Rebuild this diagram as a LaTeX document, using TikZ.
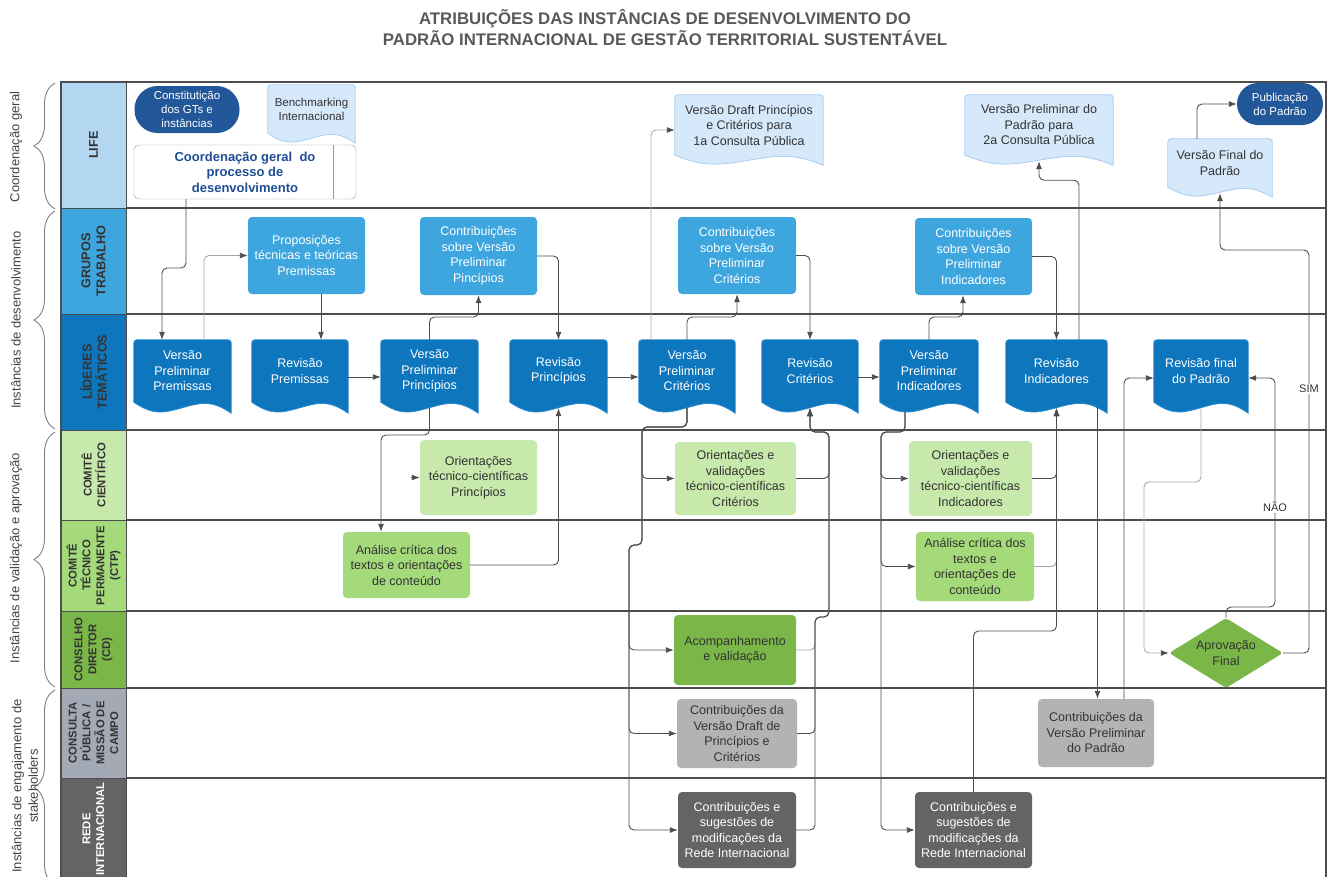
\documentclass[tikz,border=0pt]{standalone}
\usepackage{fontspec}
\setmainfont{Liberation Sans}
\usepackage{tikz}
\usetikzlibrary{arrows.meta,calc,shapes.geometric,decorations.pathreplacing,backgrounds}

\definecolor{lineC}{HTML}{4D4D4D}
\definecolor{faintC}{HTML}{A6A6A6}
\definecolor{txtC}{HTML}{333333}
\definecolor{titleC}{HTML}{595959}
\definecolor{grpC}{HTML}{444444}
\definecolor{braceC}{HTML}{808080}
\definecolor{lifeC}{HTML}{B4D7F1}
\definecolor{gtC}{HTML}{3EA6DE}
\definecolor{ltC}{HTML}{0E76BC}
\definecolor{ltB}{HTML}{2A8BD0}
\definecolor{ccC}{HTML}{C7E9AB}
\definecolor{ctpC}{HTML}{A4DA7A}
\definecolor{cdC}{HTML}{7AB648}
\definecolor{cpC}{HTML}{A3A9B5}
\definecolor{cpboxC}{HTML}{B3B3B3}
\definecolor{riC}{HTML}{646464}
\definecolor{navyC}{HTML}{22579A}
\definecolor{docC}{HTML}{D6E9FB}
\definecolor{docB}{HTML}{A8CDF0}
\definecolor{cgT}{HTML}{1F4E96}
\definecolor{cgB}{HTML}{9A9A9A}

% outline of a document shape (wavy bottom) round node #1, dip #2
\newcommand\docpath[2]{(#1.south west) [rounded corners=3pt] -- (#1.north west) -- (#1.north east) -- (#1.south east) [sharp corners] -- ($(#1.south east)+(0,#2)$)
  .. controls ($(#1.south west)!.8!(#1.south east)+(0,-.2*#2)$) and ($(#1.south west)!.7!(#1.south east)$) .. ($(#1.south west)!.5!(#1.south east)+(0,.5*#2)$)
  .. controls ($(#1.south west)!.3!(#1.south east)+(0,#2)$) and ($(#1.south west)!.2!(#1.south east)+(0,1.2*#2)$) .. (#1.south west) -- cycle}

\begin{document}
\begin{tikzpicture}[x=1pt,y=-1pt,
	txt/.style={font=\fontsize{12.5}{15.5}\selectfont,align=center,inner sep=0pt},
	box/.style={txt,rectangle,rounded corners=4pt,text=txtC},
	gtbox/.style={box,fill=gtC,text=white},
	ccbox/.style={box,fill=ccC},
	ctpbox/.style={box,fill=ctpC},
	cdbox/.style={box,fill=cdC},
	cpbox/.style={box,fill=cpboxC},
	ribox/.style={box,fill=riC,text=white},
	navy/.style={txt,font=\fontsize{11.5}{14}\selectfont,rectangle,rounded corners=21pt,fill=navyC,text=white},
	doc/.style={txt,rectangle,text=white,minimum height=62pt},
	docl/.style={txt,rectangle,text=txtC},
	lane/.style={rotate=90,draw=lineC,line width=1pt,inner sep=0pt,align=center,text=txtC,
		font=\bfseries\fontsize{11.3}{13.8}\selectfont,minimum height=65pt},
	biglane/.style={lane,font=\bfseries\fontsize{12.7}{15}\selectfont},
	grp/.style={rotate=90,align=center,inner sep=0pt,text=grpC,font=\fontsize{13}{16.5}\selectfont},
	brace/.style={decorate,decoration={brace,amplitude=21pt},draw=braceC,line width=0.9pt},
	flow/.style={-{Latex[length=8pt,width=6pt,color=lineC]},draw=lineC,line width=0.9pt,rounded corners=5pt},
	faint/.style={draw=faintC},
	lbl/.style={fill=white,inner sep=1pt,text=txtC,font=\fontsize{11}{13}\selectfont}
]
\useasboundingbox (0,0) rectangle (1329,876);
\clip (0,0) rectangle (1329,876);

\node[txt,text=titleC,font=\bfseries\fontsize{16.8}{21}\selectfont] (TT) at (665,27.5)
	{ATRIBUIÇÕES DAS INSTÂNCIAS DE DESENVOLVIMENTO DO\\PADRÃO INTERNACIONAL DE GESTÃO TERRITORIAL SUSTENTÁVEL};

% braces and groups
\draw[brace] (55,209) -- (55,83);
\draw[brace] (55,429) -- (55,211);
\draw[brace] (55,687) -- (55,432);
\draw[brace] (55,885) -- (55,690);
\node[grp] (G1) at (16,147) {Coordenação geral};
\node[grp] (G2) at (16,320) {Instâncias de desenvolvimento};
\node[grp] (G3) at (16,558) {Instâncias de validação e aprovação};
\node[grp] (G4) at (25,786) {Instâncias de engajamento de\\stakeholders};

% lanes
\node[biglane,fill=lifeC,minimum width=126pt] (HLIFE) at (93.5,145) {LIFE};
\node[biglane,fill=gtC,minimum width=106pt] (HGT) at (93.5,261) {GRUPOS\\TRABALHO};
\node[biglane,fill=ltC,minimum width=116pt] (HLT) at (93.5,372) {LÍDERES\\TEMÁTICOS};
\node[lane,fill=ccC,minimum width=90pt] (HCC) at (93.5,475) {COMITÊ\\CIENTÍFICO};
\node[lane,fill=ctpC,minimum width=91pt] (HCTP) at (93.5,565.5) {COMITÊ\\TÉCNICO\\PERMANENTE\\(CTP)};
\node[lane,fill=cdC,minimum width=77pt] (HCD) at (93.5,649.5) {CONSELHO\\DIRETOR\\(CD)};
\node[lane,fill=cpC,minimum width=90pt] (HCP) at (93.5,733) {CONSULTA\\PÚBLICA /\\MISSÃO DE\\CAMPO};
\node[lane,fill=riC,text=white,minimum width=102pt] (HRI) at (93.5,829) {REDE\\INTERNACIONAL};
\foreach \y in {208,314,430,520,611,688,778}
	\draw[lineC,line width=1.2pt] (126,\y) -- (1326,\y);
\draw[lineC,line width=1.4pt] (61,82) rectangle (1326,890);

% LIFE
\node[navy,rounded corners=23pt,minimum width=105pt,minimum height=47pt] (GTS) at (187,109.5) {Constitutição\\dos GTs e\\instâncias};
\node[docl,font=\fontsize{11.5}{14}\selectfont,minimum width=87pt,minimum height=48pt] (BM) at (311.5,109) {Benchmarking\\Internacional};
\node[txt,rectangle,rounded corners=5pt,draw=cgB,fill=white,text=cgT,minimum width=222pt,minimum height=54pt,
	font=\bfseries\fontsize{13}{15.5}\selectfont] (CG) at (245,172) {Coordenação geral\ \ do\\processo de\\desenvolvimento};
\draw[cgB] (CG.north -| 333,0) -- (CG.south -| 333,0);
\node[docl,minimum width=148pt,minimum height=60pt] (VD) at (749,125) {Versão Draft Princípios\\e Critérios para\\1a Consulta Pública};
\node[docl,minimum width=148pt,minimum height=60pt] (VPD) at (1039,125) {Versão Preliminar do\\Padrão para\\2a Consulta Pública};
\node[docl,minimum width=104pt,minimum height=48pt] (VF) at (1220,163) {Versão Final do\\Padrão};
\node[navy,minimum width=86pt,minimum height=42pt] (PUB) at (1280,104) {Publicação\\do Padrão};

% GRUPOS TRABALHO
\node[gtbox,minimum width=117pt,minimum height=77pt] (PROP) at (306.5,255.5) {Proposições\\técnicas e teóricas\\Premissas};
\node[gtbox,minimum width=117pt,minimum height=78pt] (CPR) at (478.5,256) {Contribuições\\sobre Versão\\Preliminar\\Pincípios};
\node[gtbox,minimum width=118pt,minimum height=77pt] (CCR) at (737,255.5) {Contribuições\\sobre Versão\\Preliminar\\Critérios};
\node[gtbox,minimum width=117pt,minimum height=77pt] (CIN) at (973.5,256.5) {Contribuições\\sobre Versão\\Preliminar\\Indicadores};

% LIDERES TEMATICOS
\node[doc,minimum width=97pt] (VPPM) at (182.5,371) {Versão\\Preliminar\\Premissas};
\node[doc,minimum width=96pt] (RPM) at (300,371) {Revisão\\Premissas};
\node[doc,minimum width=97pt] (VPPR) at (429.5,371) {Versão\\Preliminar\\Princípios};
\node[doc,minimum width=97pt] (RPR) at (558.5,371) {Revisão\\Princípios};
\node[doc,minimum width=96pt] (VPCR) at (687,371) {Versão\\Preliminar\\Critérios};
\node[doc,minimum width=96pt] (RCR) at (810,371) {Revisão\\Critérios};
\node[doc,minimum width=98pt] (VPIN) at (929,371) {Versão\\Preliminar\\Indicadores};
\node[doc,minimum width=101pt] (RIN) at (1056.5,371) {Revisão\\Indicadores};
\node[doc,minimum width=94pt] (RFP) at (1201,371) {Revisão final\\do Padrão};

% COMITE CIENTIFICO
\node[ccbox,minimum width=117pt,minimum height=75pt] (OPR) at (478.5,477.5) {Orientações\\técnico-científicas\\Princípios};
\node[ccbox,minimum width=121pt,minimum height=73pt] (OCR) at (735.5,478.5) {Orientações e\\validações\\técnico-científicas\\Critérios};
\node[ccbox,minimum width=123pt,minimum height=75pt] (OIN) at (970.5,478.5) {Orientações e\\validações\\técnico-científicas\\Indicadores};

% CTP
\node[ctpbox,minimum width=127pt,minimum height=66pt] (ACL) at (406.5,565) {Análise crítica dos\\textos e orientações\\de conteúdo};
\node[ctpbox,minimum width=118pt,minimum height=69pt] (ACR) at (975,566.5) {Análise crítica dos\\textos e\\orientações de\\conteúdo};

% CD
\node[cdbox,minimum width=122pt,minimum height=70pt] (ACV) at (735,650) {Acompanhamento\\e validação};
\node[txt,diamond,aspect=1.63,rounded corners=3pt,fill=cdC,text=txtC,minimum width=114pt,minimum height=70pt] (AF) at (1226,653) {Aprovação\\Final};

% CONSULTA / REDE
\node[cpbox,minimum width=120pt,minimum height=69pt] (CDR) at (737,733.5) {Contribuições da\\Versão Draft de\\Princípios e\\Critérios};
\node[cpbox,minimum width=116pt,minimum height=68pt] (CPP) at (1096,733) {Contribuições da\\Versão Preliminar\\do Padrão};
\node[ribox,minimum width=118pt,minimum height=76pt] (RIL) at (737,830) {Contribuições e\\sugestões de\\modificações da\\Rede Internacional};
\node[ribox,minimum width=117pt,minimum height=76pt] (RIR) at (973.5,830) {Contribuições e\\sugestões de\\modificações da\\Rede Internacional};

\begin{scope}[on background layer]
	\foreach \n in {VPPM,RPM,VPPR,RPR,VPCR,RCR,VPIN,RIN,RFP}
		\path[fill=ltC,draw=ltB,line width=0.8pt] \docpath{\n}{11};
	\foreach \n in {BM,VD,VPD,VF}
		\path[fill=docC,draw=docB,line width=0.8pt] \docpath{\n}{10};
\end{scope}

% connectors
\draw[flow] (CG.south -| 186,0) |- (162,268) -- (VPPM.north -| 162,0);
\draw[flow,faint] (VPPM.north -| 204,0) |- (PROP.west);
\draw[flow] (PROP.south -| 321,0) -- (RPM.north -| 321,0);
\draw[flow] (RPM.east |- 0,377) -- (VPPR.west |- 0,377);
\draw[flow] (VPPR.north) |- (478.5,317) -- (CPR.south);
\draw[flow] (CPR.east) -| (RPR.north);
\draw[flow] (RPR.east |- 0,377) -- (VPCR.west |- 0,377);
\draw[flow,faint] (VPCR.north -| 651,0) |- (VD.west |- 0,130);
\draw[flow] (VPCR.north) |- (737,317) -- (CCR.south);
\draw[flow] (CCR.east) -| (RCR.north);
\draw[flow] (RCR.east |- 0,377) -- (VPIN.west |- 0,377);
\draw[flow] (VPIN.north) |- (963,317) -- (CIN.south -| 963,0);
\draw[flow] (CIN.east) -| (RIN.north);
\draw[flow] (RIN.north -| 1079,0) |- ([yshift=-25pt]VPD.south) -- ([yshift=-6pt]VPD.south);
\draw[flow] (VF.north -| 1197,0) |- (PUB.west);

\draw[flow] ([yshift=-6pt]VPPR.south) |- (381,435) -- (ACL.north -| 381,0);
\draw[flow] ([xshift=-9pt]OPR.west) -- (OPR.west);
\draw[flow] (ACL.east) -| ([yshift=-6pt]RPR.south);

\draw[flow] ([yshift=-6pt]VPCR.south) |- (642,427) |- (OCR.west);
\foreach \t in {ACV,CDR,RIL}
	\draw[flow] ([yshift=-6pt]VPCR.south) |- (642,427) |- (629,545) |- (\t.west);
\draw[flow,faint] (ACV.east) -| (815,617) -| (829,432) -| ([yshift=-6pt]RCR.south);
\draw[flow] (CDR.east) -| (815,617) -| (829,432) -| ([yshift=-6pt]RCR.south);
\draw[flow] (RIL.east) -| (815,617) -| (829,432) -| ([yshift=-6pt]RCR.south);
\draw[flow] (OCR.east) -| (829,432) -| ([yshift=-6pt]RCR.south);

\foreach \t in {OIN,ACR,RIR}
	\draw[flow] ([xshift=-24pt,yshift=-10pt]VPIN.south) |- (881,432) |- (\t.west);
\draw[flow,faint] (ACR.east) -| ([yshift=-6pt]RIN.south);
\draw[flow] (OIN.east) -| ([yshift=-6pt]RIN.south);
\draw[flow] (RIR.north) |- (RIN.south |- 0,631) -- ([yshift=-6pt]RIN.south);

\draw[flow] ([xshift=41pt,yshift=-5pt]RIN.south) -- (CPP.north -| 1097.5,0);
\draw[flow] (CPP.north -| 1124,0) |- (RFP.west |- 0,378);
\draw[flow,faint] ([yshift=-6pt]RFP.south) |- (1144,482) |- (AF.west);
\draw[flow] (AF.north) |- (1275,607) |- (RFP.east |- 0,378);
\draw[flow] (AF.east) -| (1309,250) -| ([yshift=-6pt]VF.south);
\node[lbl] (SIM) at (1309,389) {SIM};
\node[lbl] (NAO) at (1275,507) {NÃO};
\end{tikzpicture}
\end{document}
